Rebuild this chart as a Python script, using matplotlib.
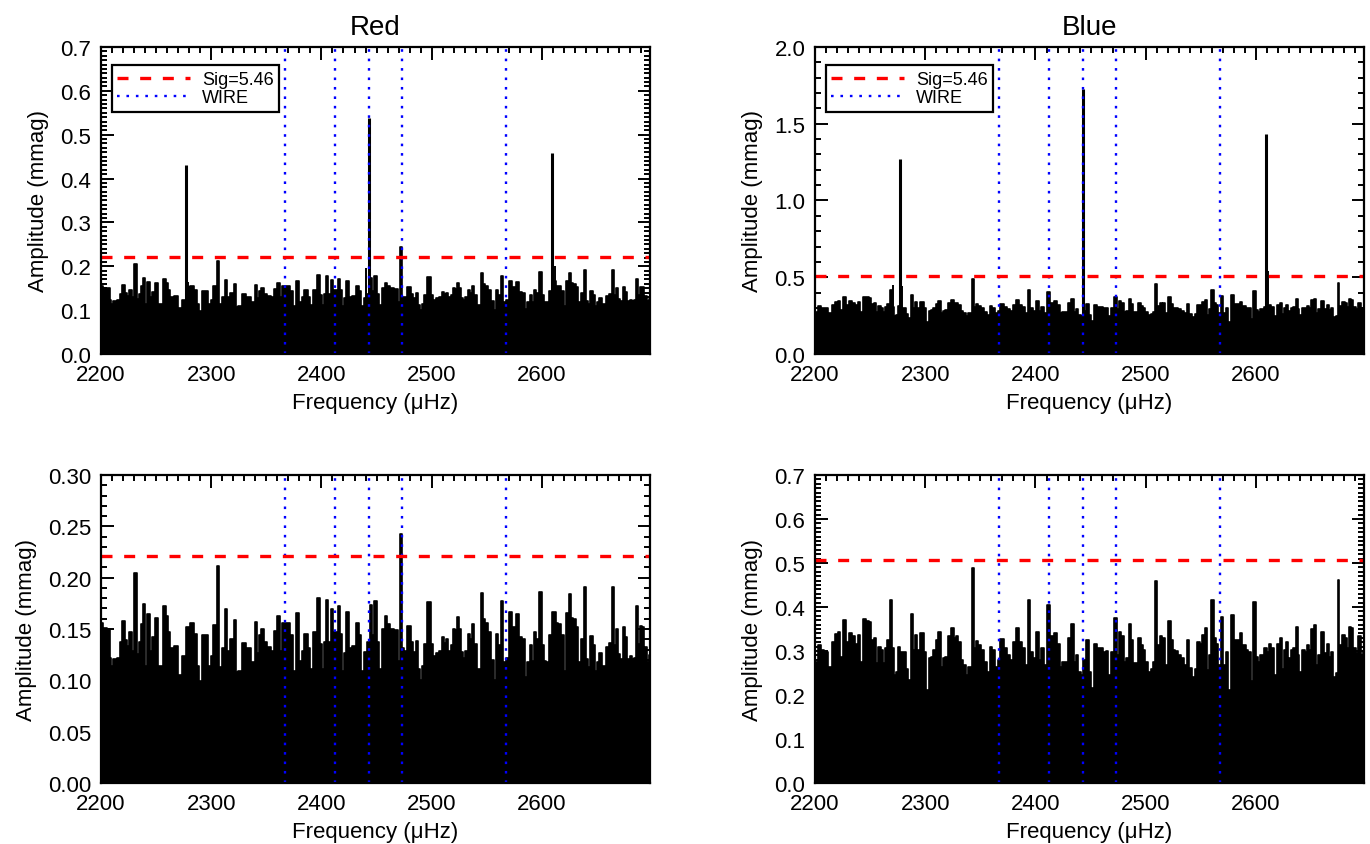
"""Amplitude spectra of the red and blue channels, before and after prewhitening."""

import matplotlib
matplotlib.use("Agg")
import matplotlib.pyplot as plt
from matplotlib.ticker import MultipleLocator, FormatStrFormatter

plt.rcParams["font.family"] = ["Liberation Sans", "DejaVu Sans"]

# local maxima / minima of the noise envelope
RED_FREQ = [
    2200.0, 2203.6, 2207.6, 2208.8, 2210.0, 2212.7, 2216.6, 2218.2, 2220.3, 2222.4,
    2224.8, 2226.9, 2228.7, 2231.2, 2233.3, 2236.0, 2237.5, 2239.3, 2240.8, 2243.3,
    2245.4, 2247.5, 2250.5, 2252.6, 2255.1, 2257.5, 2259.6, 2261.7, 2263.5, 2268.1,
    2271.7, 2274.7, 2279.3, 2282.6, 2285.6, 2288.4, 2289.9, 2292.9, 2296.5, 2298.3,
    2300.5, 2303.5, 2306.2, 2308.0, 2311.0, 2313.2, 2315.6, 2318.6, 2321.9, 2323.8,
    2325.6, 2329.8, 2333.7, 2338.3, 2340.4, 2342.8, 2344.3, 2346.4, 2348.9, 2351.9,
    2355.8, 2357.9, 2361.0, 2363.1, 2365.5, 2369.8, 2373.1, 2375.2, 2378.8, 2381.3,
    2383.1, 2386.1, 2388.8, 2391.2, 2394.0, 2397.6, 2400.3, 2401.2, 2403.0, 2405.2,
    2407.3, 2410.0, 2411.8, 2413.9, 2416.1, 2417.9, 2419.4, 2421.5, 2423.9, 2426.0,
    2429.1, 2433.0, 2435.1, 2437.5, 2440.6, 2442.7, 2444.8, 2446.6, 2449.3, 2451.8,
    2453.3, 2456.3, 2458.7, 2460.8, 2463.9, 2468.4, 2470.8, 2472.6, 2473.8, 2476.3,
    2479.6, 2482.0, 2485.0, 2486.6, 2488.4, 2490.2, 2492.0, 2494.7, 2497.7, 2500.2,
    2502.3, 2504.7, 2507.7, 2510.2, 2512.3, 2513.8, 2516.2, 2518.3, 2519.8, 2522.3,
    2523.5, 2525.3, 2527.1, 2529.5, 2531.3, 2533.8, 2535.6, 2537.4, 2539.5, 2543.1,
    2545.5, 2547.6, 2549.4, 2552.1, 2555.2, 2557.0, 2559.4, 2561.5, 2563.6, 2565.8,
    2568.8, 2571.8, 2574.8, 2577.9, 2580.3, 2583.3, 2585.7, 2587.8, 2590.3, 2592.4,
    2593.9, 2596.0, 2599.0, 2601.5, 2603.0, 2605.1, 2607.5, 2611.1, 2613.6, 2616.0,
    2619.0, 2621.1, 2623.3, 2625.1, 2626.9, 2629.9, 2632.3, 2634.1, 2636.6, 2639.3,
    2640.8, 2642.3, 2645.3, 2647.5, 2649.3, 2651.4, 2652.9, 2655.3, 2657.4, 2659.6,
    2662.0, 2664.4, 2665.9, 2668.0, 2669.5, 2672.6, 2674.7, 2676.5, 2678.6, 2680.7,
    2683.2, 2684.7, 2686.8, 2688.0, 2689.8, 2691.6, 2692.8, 2694.7, 2696.8, 2698.0,
]
RED_AMP = [
    0.156, 0.151, 0.150, 0.122, 0.114, 0.121, 0.122, 0.137, 0.158, 0.139,
    0.133, 0.147, 0.129, 0.205, 0.126, 0.137, 0.155, 0.174, 0.114, 0.165,
    0.129, 0.142, 0.161, 0.114, 0.114, 0.172, 0.163, 0.147, 0.131, 0.133,
    0.105, 0.124, 0.152, 0.156, 0.145, 0.114, 0.099, 0.144, 0.144, 0.114,
    0.124, 0.154, 0.211, 0.113, 0.131, 0.169, 0.129, 0.140, 0.159, 0.108,
    0.109, 0.136, 0.131, 0.118, 0.157, 0.127, 0.144, 0.150, 0.137, 0.132,
    0.129, 0.148, 0.163, 0.129, 0.156, 0.156, 0.144, 0.109, 0.166, 0.119,
    0.129, 0.145, 0.131, 0.111, 0.147, 0.180, 0.135, 0.111, 0.137, 0.178,
    0.137, 0.169, 0.147, 0.147, 0.172, 0.145, 0.109, 0.127, 0.167, 0.131,
    0.133, 0.156, 0.144, 0.109, 0.128, 0.137, 0.173, 0.144, 0.177, 0.137,
    0.111, 0.150, 0.163, 0.155, 0.150, 0.149, 0.119, 0.243, 0.131, 0.129,
    0.153, 0.137, 0.128, 0.138, 0.111, 0.100, 0.114, 0.135, 0.176, 0.135,
    0.124, 0.127, 0.129, 0.142, 0.136, 0.140, 0.129, 0.134, 0.150, 0.149,
    0.162, 0.150, 0.128, 0.122, 0.129, 0.145, 0.140, 0.155, 0.135, 0.111,
    0.185, 0.160, 0.156, 0.147, 0.120, 0.100, 0.145, 0.134, 0.177, 0.118,
    0.122, 0.167, 0.152, 0.165, 0.142, 0.140, 0.103, 0.118, 0.134, 0.119,
    0.147, 0.140, 0.186, 0.134, 0.119, 0.118, 0.144, 0.167, 0.156, 0.155,
    0.144, 0.109, 0.166, 0.184, 0.161, 0.160, 0.152, 0.118, 0.140, 0.191,
    0.121, 0.113, 0.143, 0.134, 0.109, 0.118, 0.127, 0.114, 0.114, 0.132,
    0.136, 0.191, 0.134, 0.150, 0.126, 0.121, 0.152, 0.142, 0.121, 0.124,
    0.121, 0.122, 0.172, 0.135, 0.153, 0.152, 0.131, 0.132, 0.118, 0.125,
]

BLUE_FREQ = [
    2200.0, 2202.1, 2203.9, 2207.0, 2210.0, 2213.6, 2217.2, 2219.7, 2222.1, 2223.9,
    2227.2, 2229.3, 2232.1, 2235.4, 2237.8, 2239.9, 2242.4, 2244.2, 2247.5, 2249.9,
    2252.3, 2254.5, 2256.0, 2258.4, 2260.5, 2262.0, 2264.4, 2266.6, 2268.7, 2270.5,
    2272.0, 2274.1, 2275.9, 2278.7, 2281.7, 2283.8, 2285.6, 2287.7, 2290.2, 2291.7,
    2293.8, 2297.4, 2299.8, 2302.3, 2304.4, 2306.5, 2308.3, 2310.4, 2312.9, 2315.0,
    2317.1, 2319.5, 2321.6, 2324.7, 2327.1, 2328.6, 2331.0, 2333.1, 2335.6, 2337.7,
    2340.7, 2343.4, 2345.2, 2346.7, 2349.8, 2352.2, 2354.9, 2357.3, 2359.5, 2361.9,
    2364.9, 2366.4, 2370.0, 2372.4, 2375.4, 2378.5, 2380.6, 2383.3, 2386.0, 2389.4,
    2392.1, 2394.2, 2396.6, 2398.7, 2401.8, 2404.2, 2406.6, 2408.7, 2412.4, 2414.8,
    2418.4, 2420.8, 2423.0, 2425.4, 2428.4, 2430.8, 2433.5, 2436.0, 2438.1, 2439.9,
    2442.0, 2444.1, 2447.2, 2449.6, 2451.1, 2454.7, 2457.1, 2460.2, 2463.2, 2465.3,
    2467.1, 2469.2, 2472.9, 2475.3, 2476.8, 2479.2, 2481.3, 2483.5, 2485.3, 2487.4,
    2489.5, 2491.9, 2494.4, 2496.5, 2498.6, 2501.0, 2503.4, 2505.5, 2507.1, 2509.2,
    2511.6, 2513.7, 2515.5, 2516.7, 2519.2, 2521.6, 2523.7, 2525.8, 2528.2, 2530.7,
    2533.7, 2535.8, 2538.8, 2540.3, 2543.3, 2545.5, 2547.9, 2550.3, 2552.4, 2554.8,
    2557.0, 2558.5, 2560.6, 2563.0, 2564.5, 2566.6, 2569.1, 2571.5, 2573.6, 2576.0,
    2578.7, 2581.8, 2584.2, 2586.3, 2588.7, 2590.2, 2591.8, 2593.9, 2596.3, 2598.7,
    2600.8, 2602.3, 2605.4, 2609.0, 2611.4, 2612.9, 2615.1, 2617.5, 2621.1, 2622.9,
    2624.1, 2625.9, 2628.1, 2629.6, 2631.1, 2632.6, 2635.0, 2637.1, 2638.7, 2640.2,
    2643.2, 2645.3, 2647.7, 2649.2, 2651.4, 2653.8, 2655.3, 2657.4, 2661.3, 2662.9,
    2665.3, 2667.4, 2668.9, 2671.3, 2673.5, 2674.9, 2676.5, 2679.5, 2681.6, 2683.4,
    2685.5, 2687.1, 2688.6, 2690.1, 2691.6, 2694.0, 2696.0, 2698.0,
]
BLUE_AMP = [
    0.275, 0.275, 0.314, 0.302, 0.298, 0.264, 0.321, 0.338, 0.344, 0.287,
    0.371, 0.321, 0.342, 0.333, 0.317, 0.336, 0.275, 0.373, 0.368, 0.367,
    0.325, 0.330, 0.272, 0.310, 0.302, 0.272, 0.306, 0.325, 0.416, 0.306,
    0.245, 0.253, 0.310, 0.298, 0.298, 0.260, 0.234, 0.384, 0.302, 0.336,
    0.302, 0.340, 0.298, 0.211, 0.283, 0.287, 0.302, 0.325, 0.344, 0.264,
    0.283, 0.287, 0.333, 0.353, 0.329, 0.333, 0.321, 0.279, 0.268, 0.245,
    0.264, 0.489, 0.306, 0.323, 0.314, 0.302, 0.275, 0.253, 0.310, 0.302,
    0.264, 0.279, 0.327, 0.306, 0.291, 0.279, 0.321, 0.353, 0.321, 0.306,
    0.268, 0.416, 0.298, 0.283, 0.344, 0.279, 0.306, 0.268, 0.405, 0.333,
    0.342, 0.317, 0.264, 0.275, 0.274, 0.330, 0.361, 0.275, 0.291, 0.253,
    0.245, 0.279, 0.325, 0.253, 0.215, 0.317, 0.306, 0.306, 0.298, 0.300,
    0.245, 0.298, 0.374, 0.291, 0.344, 0.333, 0.275, 0.283, 0.361, 0.325,
    0.272, 0.272, 0.329, 0.314, 0.302, 0.275, 0.253, 0.260, 0.275, 0.458,
    0.314, 0.333, 0.298, 0.329, 0.268, 0.368, 0.325, 0.302, 0.300, 0.291,
    0.283, 0.268, 0.325, 0.262, 0.241, 0.260, 0.321, 0.317, 0.336, 0.353,
    0.256, 0.291, 0.415, 0.329, 0.317, 0.268, 0.378, 0.268, 0.298, 0.211,
    0.382, 0.325, 0.325, 0.340, 0.314, 0.314, 0.302, 0.298, 0.231, 0.411,
    0.287, 0.275, 0.291, 0.306, 0.298, 0.317, 0.306, 0.245, 0.317, 0.329,
    0.260, 0.302, 0.321, 0.275, 0.283, 0.302, 0.306, 0.355, 0.291, 0.253,
    0.302, 0.298, 0.314, 0.302, 0.350, 0.359, 0.268, 0.291, 0.344, 0.295,
    0.317, 0.287, 0.298, 0.241, 0.249, 0.462, 0.314, 0.336, 0.329, 0.307,
    0.355, 0.352, 0.283, 0.306, 0.295, 0.335, 0.290, 0.300,
]

# modes removed by prewhitening (only in the top row)
PEAK_FREQ = [2277.0, 2443.2, 2609.3]
RED_PEAK_AMP = [0.430, 0.539, 0.459]
BLUE_PEAK_AMP = [1.271, 1.724, 1.430]
RED_SIDE_FREQ = [2278.5, 2440.6, 2611.5]
RED_SIDE_AMP = [0.165, 0.197, 0.200]
BLUE_SIDE_FREQ = [2271.0, 2279.0, 2610.6]
BLUE_SIDE_AMP = [0.450, 0.440, 0.540]

WIRE_FREQ = [2366.5, 2412.3, 2442.7, 2472.8, 2567.8]
RED_SIG = 0.221
BLUE_SIG = 0.507
SIG_LABEL = "Sig=5.46"


def panel(ax, freq, amp, sig, ymax, major, minor, fmt,
          peaks=None, sides=None, legend=False, title=None):
    ax.fill_between(freq, 0, amp, step="mid", color="black", linewidth=0, zorder=2)
    ax.plot(freq, amp, color="black", lw=1.2, drawstyle="steps-mid", zorder=2)
    if peaks is not None:
        ax.vlines(peaks[0], 0, peaks[1], colors="black", lw=2.2, zorder=2)
    if sides is not None:
        ax.vlines(sides[0], 0, sides[1], colors="black", lw=1.4, zorder=2)
    wire = None
    for f in WIRE_FREQ:
        wire = ax.axvline(f, color="blue", lw=1.7, ls=(0, (1.1, 2.9)), zorder=3)
    sig_line = ax.axhline(sig, color="red", lw=2.4, ls=(0, (3.3, 3.5)), zorder=4)

    ax.set_xlim(2200, 2698)
    ax.set_ylim(0, ymax)
    ax.xaxis.set_major_locator(MultipleLocator(100))
    ax.xaxis.set_minor_locator(MultipleLocator(10))
    ax.yaxis.set_major_locator(MultipleLocator(major))
    ax.yaxis.set_minor_locator(MultipleLocator(minor))
    ax.yaxis.set_major_formatter(FormatStrFormatter(fmt))
    ax.tick_params(which="both", direction="in", top=True, right=True, width=1.4,
                   labelsize=16, pad=7)
    ax.tick_params(which="major", length=9)
    ax.tick_params(which="minor", length=4.5)
    for spine in ax.spines.values():
        spine.set_linewidth(1.6)
        spine.set_zorder(5)
    ax.set_xlabel("Frequency (\u03bcHz)", fontsize=16, labelpad=5)
    ax.set_ylabel("Amplitude (mmag)", fontsize=16, labelpad=8)
    if title:
        ax.set_title(title, fontsize=20, pad=9)
    if legend:
        leg = ax.legend([sig_line, wire], [SIG_LABEL, "WIRE"], loc="upper left",
                        bbox_to_anchor=(0.02, 0.94), borderaxespad=0, fontsize=13,
                        handlelength=4.0, handletextpad=0.7, labelspacing=0.08,
                        borderpad=0.3, fancybox=False, framealpha=1, edgecolor="black")
        leg.get_frame().set_linewidth(1.6)
        leg.set_zorder(6)


fig = plt.figure(figsize=(13.7, 8.45), dpi=100)
ax_tl = fig.add_axes([0.0737, 0.5799, 0.4007, 0.3633])
ax_tr = fig.add_axes([0.5949, 0.5799, 0.4007, 0.3633])
ax_bl = fig.add_axes([0.0737, 0.0722, 0.4007, 0.3645])
ax_br = fig.add_axes([0.5949, 0.0722, 0.4007, 0.3645])

panel(ax_tl, RED_FREQ, RED_AMP, RED_SIG, 0.7, 0.1, 0.01, "%.1f",
      peaks=(PEAK_FREQ, RED_PEAK_AMP), sides=(RED_SIDE_FREQ, RED_SIDE_AMP),
      legend=True, title="Red")
panel(ax_tr, BLUE_FREQ, BLUE_AMP, BLUE_SIG, 2.0, 0.5, 0.1, "%.1f",
      peaks=(PEAK_FREQ, BLUE_PEAK_AMP), sides=(BLUE_SIDE_FREQ, BLUE_SIDE_AMP),
      legend=True, title="Blue")
panel(ax_bl, RED_FREQ, RED_AMP, RED_SIG, 0.30, 0.05, 0.01, "%.2f")
panel(ax_br, BLUE_FREQ, BLUE_AMP, BLUE_SIG, 0.7, 0.1, 0.01, "%.1f")

fig.savefig("out.png", dpi=100)
